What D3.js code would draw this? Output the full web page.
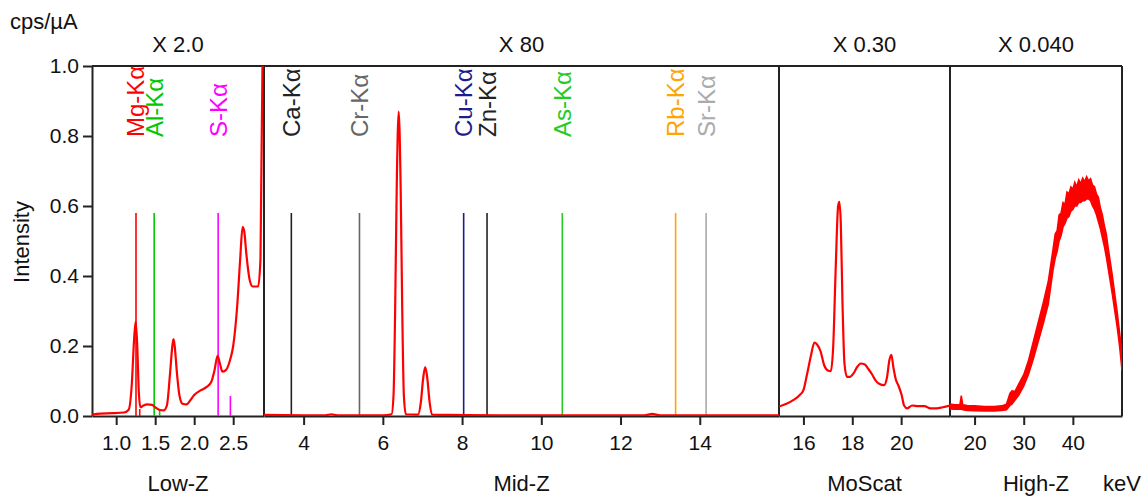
<!DOCTYPE html>
<html><head><meta charset="utf-8">
<script src="https://cdn.jsdelivr.net/npm/d3@7"></script>
<style>
body{margin:0;background:#fff;}
svg{display:block;font-family:"Liberation Sans",Arial,Helvetica,sans-serif;}
</style>
</head><body>
<svg id="chart" width="1143" height="496"></svg>
<script>
// ---------- DATA ----------
const panelNames  = ["Low-Z", "Mid-Z", "MoScat", "High-Z"];
const panelFactors = ["X 2.0", "X 80", "X 0.30", "X 0.040"];
const panelDomains = [[0.69, 2.895], [3, 16], [15, 22], [15, 50]];
const panelTicks = [[1.0, 1.5, 2.0, 2.5], [4, 6, 8, 10, 12, 14], [16, 18, 20], [20, 30, 40]];
const yTickValues = [0, 0.2, 0.4, 0.6, 0.8, 1.0];

const lowZEnergy    = [0.69, 0.80, 0.95, 1.10, 1.16, 1.20, 1.23, 1.25, 1.27, 1.29, 1.31, 1.35, 1.40, 1.46, 1.50, 1.55, 1.61, 1.65, 1.69, 1.72, 1.735, 1.75, 1.78, 1.81, 1.85, 1.90, 1.95, 2.00, 2.08, 2.16, 2.22, 2.26, 2.30, 2.33, 2.36, 2.40, 2.46, 2.50, 2.55, 2.59, 2.62, 2.64, 2.67, 2.71, 2.75, 2.82, 2.85, 2.88];
const lowZIntensity = [0.004, 0.007, 0.008, 0.010, 0.018, 0.09, 0.22, 0.27, 0.20, 0.07, 0.025, 0.030, 0.033, 0.032, 0.025, 0.018, 0.016, 0.030, 0.12, 0.20, 0.22, 0.20, 0.12, 0.06, 0.035, 0.033, 0.045, 0.060, 0.073, 0.083, 0.098, 0.13, 0.172, 0.15, 0.127, 0.13, 0.16, 0.20, 0.31, 0.45, 0.54, 0.53, 0.46, 0.39, 0.37, 0.37, 0.45, 1.10];

const midZEnergy    = [3.0, 4.0, 4.55, 4.7, 4.85, 6.0, 6.22, 6.27, 6.31, 6.35, 6.40, 6.45, 6.49, 6.53, 6.58, 6.89, 6.96, 7.02, 7.07, 7.12, 7.18, 7.24, 9.0, 12.6, 12.8, 13.0, 16.0];
const midZIntensity = [0.003, 0.002, 0.002, 0.005, 0.002, 0.002, 0.005, 0.06, 0.30, 0.65, 0.87, 0.65, 0.30, 0.06, 0.005, 0.004, 0.04, 0.11, 0.14, 0.11, 0.04, 0.004, 0.002, 0.002, 0.006, 0.002, 0.002];

const moScatEnergy    = [15.0, 15.3, 15.6, 15.85, 16.0, 16.15, 16.3, 16.45, 16.55, 16.7, 16.85, 17.0, 17.12, 17.22, 17.32, 17.42, 17.47, 17.53, 17.6, 17.68, 17.78, 17.9, 18.05, 18.2, 18.35, 18.5, 18.65, 18.8, 18.95, 19.1, 19.3, 19.42, 19.52, 19.6, 19.68, 19.78, 19.9, 20.02, 20.12, 20.25, 20.45, 20.7, 20.95, 21.2, 21.45, 21.7, 22.0];
const moScatIntensity = [0.027, 0.035, 0.046, 0.060, 0.074, 0.12, 0.17, 0.21, 0.205, 0.185, 0.145, 0.13, 0.128, 0.20, 0.42, 0.60, 0.612, 0.55, 0.32, 0.15, 0.112, 0.112, 0.122, 0.14, 0.15, 0.148, 0.135, 0.12, 0.102, 0.092, 0.088, 0.11, 0.16, 0.175, 0.14, 0.105, 0.085, 0.06, 0.03, 0.022, 0.03, 0.028, 0.028, 0.022, 0.022, 0.025, 0.03];

const highZEnergy = [15, 16, 17, 17.3, 17.6, 18.5, 20, 22, 24, 25.5, 26.5, 27.2, 27.6, 28.2, 29, 30, 31, 32, 33, 34, 35,
  36.0, 36.4, 36.8, 37.2, 37.6, 38.0, 38.4, 38.8, 39.2, 39.6, 40.0, 40.4, 40.8, 41.2, 41.6, 42.0, 42.4, 42.8, 43.2, 43.6, 44.0, 44.4, 44.8, 45.2, 45.6, 46.0, 46.4, 46.8, 47.2,
  48, 49, 49.5, 50];
const highZLow    = [0.020, 0.019, 0.019, 0.020, 0.018, 0.016, 0.015, 0.014, 0.014, 0.016, 0.018, 0.030, 0.034, 0.045, 0.060, 0.085, 0.12, 0.165, 0.215, 0.265, 0.32,
  0.42, 0.45, 0.47, 0.50, 0.515, 0.54, 0.55, 0.565, 0.57, 0.585, 0.59, 0.60, 0.60, 0.61, 0.61, 0.615, 0.615, 0.62, 0.62, 0.615, 0.60, 0.59, 0.575, 0.555, 0.535, 0.51, 0.485, 0.455, 0.42,
  0.35, 0.255, 0.20, 0.13];
const highZHigh   = [0.034, 0.032, 0.032, 0.058, 0.032, 0.030, 0.029, 0.027, 0.027, 0.029, 0.034, 0.065, 0.072, 0.070, 0.092, 0.118, 0.16, 0.215, 0.27, 0.325, 0.385,
  0.48, 0.52, 0.53, 0.575, 0.58, 0.61, 0.605, 0.64, 0.635, 0.655, 0.648, 0.668, 0.655, 0.675, 0.664, 0.68, 0.67, 0.684, 0.672, 0.678, 0.66, 0.655, 0.635, 0.625, 0.595, 0.575, 0.545, 0.52, 0.48,
  0.405, 0.30, 0.24, 0.18];

const lineNames    = ["Mg-Kα", "Al-Kα", "S-Kα", "Ca-Kα", "Cr-Kα", "Cu-Kα", "Zn-Kα", "As-Kα", "Rb-Kα", "Sr-Kα"];
const lineEnergies = [1.254, 1.487, 2.307, 3.69, 5.41, 8.04, 8.63, 10.53, 13.39, 14.16];
const linePanels   = [0, 0, 0, 1, 1, 1, 1, 1, 1, 1];
const lineColors   = ["#ff0000", "#00c800", "#ff00ff", "#222222", "#666666", "#1c1c8c", "#222222", "#22cc22", "#ffa500", "#aaaaaa"];
const lineHeight   = 0.58;

const minorEnergies = [1.302, 1.557, 2.464];
const minorHeights  = [0.02, 0.02, 0.057];
const minorColors   = ["#ff0000", "#00c800", "#ff00ff"];
const minorPanels   = [0, 0, 0];

// ---------- LAYOUT ----------
const svg = d3.select("#chart");
const plotTop = 66, plotBottom = 416;
const edges = [92, 264, 779, 950, 1122];
const frameColor = "#222";

const y = d3.scaleLinear().domain([0, 1]).range([plotBottom, plotTop]);
const xs = panelDomains.map((d, i) => d3.scaleLinear().domain(d).range([edges[i], edges[i + 1]]));

const defs = svg.append("defs");
panelNames.forEach((n, i) => {
  defs.append("clipPath").attr("id", "clip" + i)
    .append("rect").attr("x", edges[i]).attr("y", plotTop)
    .attr("width", edges[i + 1] - edges[i]).attr("height", plotBottom - plotTop);
});

// y axis
const yAxis = svg.append("g").attr("transform", `translate(${edges[0]},0)`)
  .call(d3.axisLeft(y).tickValues(yTickValues).tickFormat(d3.format(".1f")).tickSize(9).tickPadding(4).tickSizeOuter(0));
yAxis.selectAll("text").attr("font-size", 21).attr("fill", "#111").attr("font-family", "Liberation Sans, Arial, sans-serif");
yAxis.selectAll("line").attr("stroke", frameColor).attr("stroke-width", 2);
yAxis.select(".domain").attr("stroke", frameColor).attr("stroke-width", 2);

// x axes per panel
xs.forEach((x, i) => {
  const fmt = i === 0 ? d3.format(".1f") : d3.format("d");
  const g = svg.append("g").attr("transform", `translate(0,${plotBottom})`)
    .call(d3.axisBottom(x).tickValues(panelTicks[i]).tickFormat(fmt).tickSize(9).tickPadding(10).tickSizeOuter(0));
  g.selectAll("text").attr("font-size", 21).attr("fill", "#111").attr("font-family", "Liberation Sans, Arial, sans-serif");
  g.selectAll("line").attr("stroke", frameColor).attr("stroke-width", 2);
  g.select(".domain").attr("stroke", frameColor).attr("stroke-width", 2);
  svg.append("text").attr("x", (edges[i] + edges[i + 1]) / 2).attr("y", 491)
    .attr("text-anchor", "middle").attr("font-size", 22).attr("fill", "#111").text(panelNames[i]);
  svg.append("text").attr("x", (edges[i] + edges[i + 1]) / 2).attr("y", 52)
    .attr("text-anchor", "middle").attr("font-size", 22).attr("fill", "#111").text(panelFactors[i]);
});

// frame: top, right, dividers
svg.append("line").attr("x1", edges[0]).attr("x2", edges[4]).attr("y1", plotTop).attr("y2", plotTop)
  .attr("stroke", frameColor).attr("stroke-width", 2);
edges.slice(1).forEach(e => {
  svg.append("line").attr("x1", e).attr("x2", e).attr("y1", plotTop).attr("y2", plotBottom)
    .attr("stroke", frameColor).attr("stroke-width", 2);
});

// element lines
lineNames.forEach((n, i) => {
  const x = xs[linePanels[i]];
  const px = x(lineEnergies[i]);
  svg.append("line").attr("x1", px).attr("x2", px).attr("y1", y(0)).attr("y2", y(lineHeight))
    .attr("stroke", lineColors[i]).attr("stroke-width", 1.6);
  svg.append("text").attr("transform", `translate(${px + 8.5},137) rotate(-90)`)
    .attr("text-anchor", "start").attr("font-size", 24).attr("fill", lineColors[i]).text(n);
});
minorEnergies.forEach((e, i) => {
  const px = xs[minorPanels[i]](e);
  svg.append("line").attr("x1", px).attr("x2", px).attr("y1", y(0)).attr("y2", y(minorHeights[i]))
    .attr("stroke", minorColors[i]).attr("stroke-width", 1.6);
});

// spectra
const spectra = [
  [lowZEnergy, lowZIntensity],
  [midZEnergy, midZIntensity],
  [moScatEnergy, moScatIntensity]
];
spectra.forEach(([E, I], i) => {
  const x = xs[i];
  const line = d3.line().x(d => x(d[0])).y(d => y(d[1])).curve(d3.curveMonotoneX);
  svg.append("path").datum(E.map((e, k) => [e, I[k]]))
    .attr("clip-path", `url(#clip${i})`)
    .attr("d", line).attr("fill", "none").attr("stroke", "#ff0000").attr("stroke-width", 2.2);
});
// high-Z noisy band
{
  const x = xs[3];
  const area = d3.area().x(d => x(d[0])).y0(d => y(d[1])).y1(d => y(d[2])).curve(d3.curveLinear);
  svg.append("path").datum(highZEnergy.map((e, k) => [e, highZLow[k], highZHigh[k]]))
    .attr("clip-path", "url(#clip3)")
    .attr("d", area).attr("fill", "#ff0000").attr("stroke", "#ff0000").attr("stroke-width", 1.5);
}

// titles
svg.append("text").attr("x", 10).attr("y", 29).attr("font-size", 22).attr("fill", "#111").text("cps/µA");
svg.append("text").attr("transform", "translate(29,242) rotate(-90)").attr("text-anchor", "middle")
  .attr("font-size", 22).attr("fill", "#111").text("Intensity");
svg.append("text").attr("x", 1141).attr("y", 491).attr("text-anchor", "end")
  .attr("font-size", 22).attr("fill", "#111").text("keV");
</script>
</body></html>
